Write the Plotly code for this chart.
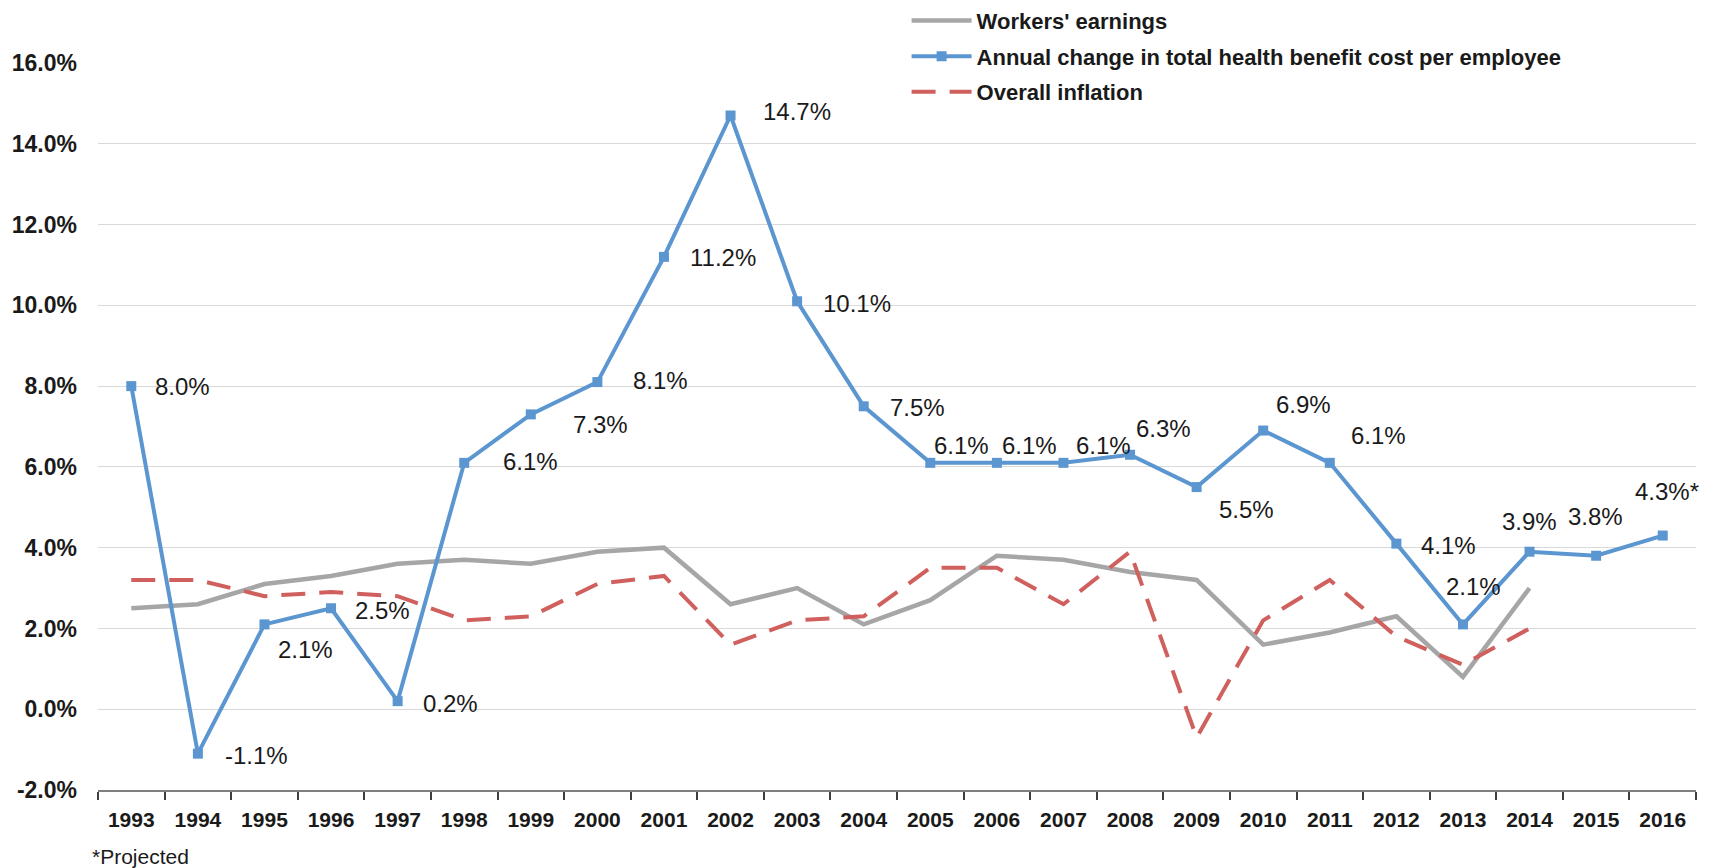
import plotly.graph_objects as go

years = [str(y) for y in range(1993, 2017)]

# annual change in total health benefit cost per employee (2016 projected)
health_cost = [8.0, -1.1, 2.1, 2.5, 0.2, 6.1, 7.3, 8.1, 11.2, 14.7, 10.1, 7.5,
               6.1, 6.1, 6.1, 6.3, 5.5, 6.9, 6.1, 4.1, 2.1, 3.9, 3.8, 4.3]
health_labels = ['8.0%', '-1.1%', '2.1%', '2.5%', '0.2%', '6.1%', '7.3%', '8.1%',
                 '11.2%', '14.7%', '10.1%', '7.5%', '6.1%', '6.1%', '6.1%', '6.3%',
                 '5.5%', '6.9%', '6.1%', '4.1%', '2.1%', '3.9%', '3.8%', '4.3%*']

earnings_years = years[:22]
workers_earnings = [2.5, 2.6, 3.1, 3.3, 3.6, 3.7, 3.6, 3.9, 4.0, 2.6, 3.0, 2.1,
                    2.7, 3.8, 3.7, 3.4, 3.2, 1.6, 1.9, 2.3, 0.8, 3.0]

inflation_years = years[:22]
inflation = [3.2, 3.2, 2.8, 2.9, 2.8, 2.2, 2.3, 3.1, 3.3, 1.6, 2.2, 2.3,
             3.5, 3.5, 2.6, 3.9, -0.7, 2.2, 3.2, 1.8, 1.1, 2.0]

y_ticks = [-2, 0, 2, 4, 6, 8, 10, 12, 14, 16]
y_tick_text = ['%.1f%%' % v for v in y_ticks]

# label offsets (px) from each point: (xshift, yshift)
label_shift = [(22, 0), (25, -2), (12, -25), (22, -2), (23, -2), (37, 1), (40, -10),
               (34, 2), (24, -1), (30, 4), (24, -2), (24, -1), (2, 17), (3, 17),
               (11, 17), (4, 26), (20, -22), (11, 26), (19, 27), (23, -2),
               (-19, 38), (-30, 30), (-30, 39), (-30, 44)]

FONT = 'Liberation Sans, Arial, sans-serif'
BLUE = '#5B96D0'

fig = go.Figure()
fig.add_trace(go.Scatter(x=earnings_years, y=workers_earnings, name="Workers' earnings",
                         mode='lines', legendgroup='a',
                         line=dict(color='#A6A6A6', width=4.5)))
fig.add_trace(go.Scatter(x=years, y=health_cost,
                         name='Annual change in total health benefit cost per employee',
                         mode='lines+markers', legendgroup='b',
                         line=dict(color=BLUE, width=4),
                         marker=dict(symbol='square', size=10, color=BLUE)))
fig.add_trace(go.Scatter(x=inflation_years, y=inflation, name='Overall inflation',
                         mode='lines', legendgroup='c',
                         line=dict(color='#D0605E', width=4, dash='24px,14px')))

for i, (v, txt, (dx, dy)) in enumerate(zip(health_cost, health_labels, label_shift)):
    fig.add_annotation(x=i, y=v, text=txt, showarrow=False, xanchor='left',
                       yanchor='middle', xshift=dx, yshift=dy,
                       font=dict(family=FONT, size=24, color='#1a1a1a'))

fig.add_annotation(xref='paper', yref='paper', x=-0.005, y=-0.092, text='*Projected',
                   showarrow=False, xanchor='left', yanchor='middle',
                   font=dict(family=FONT, size=21, color='#1a1a1a'))

fig.update_layout(
    width=1701, height=860,
    margin=dict(l=90, r=13, t=55, b=78, autoexpand=False),
    paper_bgcolor='white', plot_bgcolor='white',
    font=dict(family=FONT, color='#1a1a1a'),
    showlegend=True,
    legend=dict(x=0.506, y=1.087, xanchor='left', yanchor='top',
                bgcolor='rgba(0,0,0,0)', itemwidth=60, tracegroupgap=4,
                font=dict(family=FONT, size=22, color='#1a1a1a', weight='bold')),
    xaxis=dict(type='category', range=[-0.5, 23.5], showgrid=False,
               showline=True, linecolor='#7f7f7f', linewidth=2,
               ticks='outside', tickson='boundaries', ticklen=8, tickcolor='#404040',
               tickwidth=1.5, ticklabelstandoff=10,
               tickfont=dict(family=FONT, size=21, color='#1a1a1a', weight='bold')),
    yaxis=dict(range=[-2, 16], tickvals=y_ticks, ticktext=y_tick_text,
               showgrid=True, gridcolor='#d9d9d9', gridwidth=1.2, zeroline=False,
               showline=False, ticks='', ticklabelstandoff=20,
               tickfont=dict(family=FONT, size=23, color='#1a1a1a', weight='bold')),
)

fig.write_html('out.html')
